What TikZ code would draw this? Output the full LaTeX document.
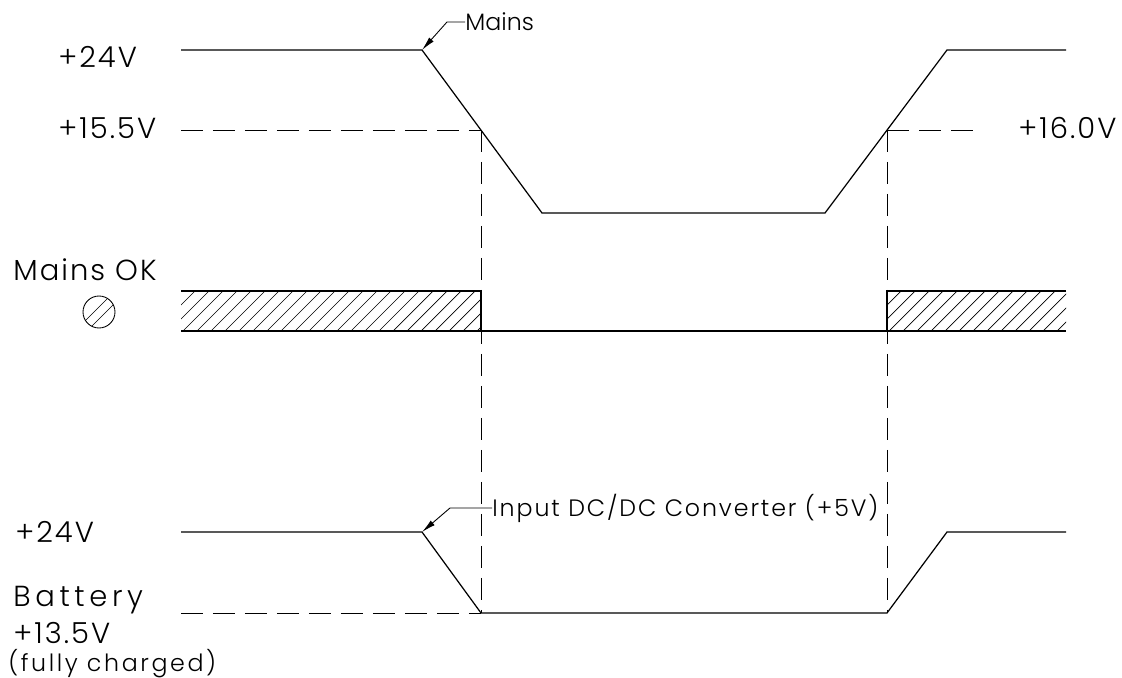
\documentclass[tikz,border=0pt]{standalone}
\usepackage{fontspec}
\setmainfont{Poppins Light}
\usepackage{tikz}
\usetikzlibrary{arrows.meta,positioning}
\tikzstyle{wave}=[line width=0.7pt]
\tikzstyle{guide}=[line width=0.5pt,dash pattern=on 0.44cm off 0.2cm]
\tikzstyle{hatch}=[line width=0.4pt]
\tikzstyle{lbl}=[inner sep=0pt,anchor=west,font=\fontsize{16.5}{18}\selectfont\addfontfeature{LetterSpace=7}]
\tikzstyle{widelbl}=[lbl,font=\fontsize{16.5}{18}\selectfont\addfontfeature{LetterSpace=16}]
\tikzstyle{smalllbl}=[lbl,font=\fontsize{13.5}{16}\selectfont\addfontfeature{LetterSpace=8}]
\tikzstyle{noteslbl}=[lbl,font=\fontsize{13.5}{16}\selectfont\addfontfeature{LetterSpace=11}]
\tikzstyle{leader}=[line width=0.5pt,-{Latex[length=0.28cm,width=0.12cm]}]

\begin{document}
\begin{tikzpicture}[x=0.02cm,y=-0.02cm]
\useasboundingbox (0,0) rectangle (1122,678);
% mains voltage
\coordinate (m0) at (181,50);
\coordinate (m1) at (422,50);
\coordinate (m2) at (542,213);
\coordinate (m3) at (825,213);
\coordinate (m4) at (947,50);
\coordinate (m5) at (1066,50);
\draw[wave] (m0) -- (m1) -- (m2) -- (m3) -- (m4) -- (m5);
% thresholds
\coordinate (d0) at (181,130);
\coordinate (t1) at (481,130);
\coordinate (t2) at (887,130);
\coordinate (d1) at (977,130);
\coordinate (b0) at (181,613);
\coordinate (b1) at (481,613);
\coordinate (b2) at (887,613);
\draw[guide] (d0) -- (t1);
\draw[guide] (t2) -- (d1);
\draw[guide] (t1) -- (b1);
\draw[guide] (t2) -- (b2);
% mains ok
\begin{scope}
\clip (181,291) rectangle (481,331);
\foreach \x in {141,155,...,481} \draw[hatch] (\x,331) -- ++(40,-40);
\end{scope}
\begin{scope}
\clip (887,291) rectangle (1066,331);
\foreach \x in {847,861,...,1066} \draw[hatch] (\x,331) -- ++(40,-40);
\end{scope}
\coordinate (h0) at (181,291);
\coordinate (h1) at (481,291);
\coordinate (h2) at (887,291);
\coordinate (h3) at (1066,291);
\coordinate (l0) at (181,331);
\coordinate (l1) at (1066,331);
\draw[wave] (h0) -- (h1) -- (t1 |- l0);
\draw[wave] (h3) -- (h2) -- (t2 |- l0);
\draw[wave] (l0) -- (l1);
\node[draw,circle,minimum size=32*0.02cm,inner sep=0pt,line width=0.5pt] (led) at (99,312) {};
\begin{scope}
\clip (99,312) circle (16);
\draw[hatch] (82,324) -- ++(28,-28);
\draw[hatch] (88,330) -- ++(28,-28);
\end{scope}
% battery side
\coordinate (c0) at (181,532);
\coordinate (c1) at (422,532);
\coordinate (c4) at (947,532);
\coordinate (c5) at (1066,532);
\draw[wave] (c0) -- (c1) -- (b1) -- (b2) -- (c4) -- (c5);
\draw[guide] (b0) -- (b1);
% labels
\node[lbl] (top24) at (58,57) {+24V};
\node[lbl] (thr155) at (58,128) {+15.5V};
\node[lbl] (thr160) at (1018,128) {+16.0V};
\node[lbl,font=\fontsize{13.5}{16}\selectfont] (mains) at (465,22) {Mains};
\node[lbl] (mainsok) at (13,270) {Mains OK};
\node[lbl] (bot24) at (15,532) {+24V};
\node[widelbl] (batt) at (13,600) {Battery};
\node[lbl] (bat135) at (13,633) {+13.5V};
\node[noteslbl] (full) at (8,664) {(fully charged)};
\node[smalllbl] (conv) at (492,508) {Input DC/DC Converter (+5V)};
% leaders
\coordinate (k0) at (447,22);
\coordinate (k1) at (450,508);
\draw[leader] (mains.west) -- (k0) -- (m1);
\draw[leader] (conv.west) -- (k1) -- (c1);
\end{tikzpicture}
\end{document}
